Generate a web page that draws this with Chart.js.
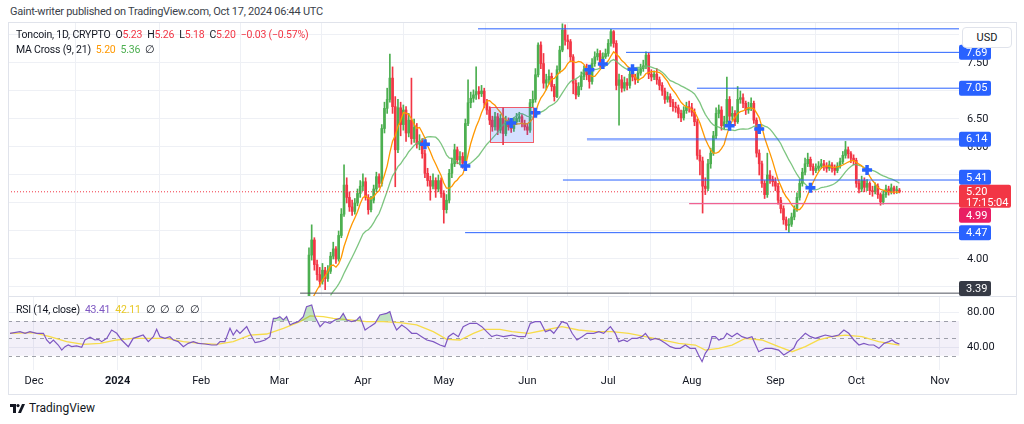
<!DOCTYPE html>
<html>
<head>
<meta charset="utf-8">
<script src="https://cdn.jsdelivr.net/npm/chart.js@4.4.1/dist/chart.umd.min.js"></script>
<style>
  body { margin:0; width:1024px; height:424px; background:#fff; position:relative; overflow:hidden;
         font-family: Roboto, "Liberation Sans", sans-serif; color:#131722; }
  canvas { position:absolute; display:block; }
  #price { left:8px; top:22px; }
  #rsi { left:8px; top:296px; }
  .txt { position:absolute; font-size:11px; letter-spacing:-0.25px; white-space:nowrap; line-height:14px; z-index:3; }
  .leg { font-size:10.5px; letter-spacing:-0.2px; }
  .txt span { margin-left:5px; }
  .txt span:first-child { margin-left:0; }
  #frame { position:absolute; left:8px; top:22px; width:1007px; height:371px; border:1px solid #e0e3eb; z-index:2; pointer-events:none; }
  #sep { position:absolute; left:8px; top:296px; width:1008px; height:1px; background:#e0e3eb; z-index:2; }
  #usd { position:absolute; left:962px; top:27px; width:48px; height:19px; border:1px solid #e0e3eb; border-radius:4px;
         background:#fff; font-size:11px; line-height:19px; text-align:center; z-index:3; }
  .red { color:#f23645; } .org { color:#ff9800; } .grn { color:#4caf50; } .pur { color:#7e57c2; } .yel { color:#e8c825; }
</style>
</head>
<body>
<div class="txt" style="left:10px;top:5px;color:#3b3f4a">Gaint-writer published on TradingView.com, Oct 17, 2024 06:44 UTC</div>
<canvas id="price" width="1008" height="274"></canvas>
<canvas id="rsi" width="1008" height="97"></canvas>
<div id="frame"></div>
<div id="sep"></div>
<div id="usd">USD</div>
<div class="txt leg" style="left:16px;top:28px"><span>Toncoin, 1D, CRYPTO</span><span>O<b class="red" style="font-weight:normal">5.23</b></span><span>H<b class="red" style="font-weight:normal">5.26</b></span><span>L<b class="red" style="font-weight:normal">5.18</b></span><span>C<b class="red" style="font-weight:normal">5.20</b></span><span class="red">−0.03 (−0.57%)</span></div>
<div class="txt leg" style="left:16px;top:43px"><span>MA Cross (9, 21)</span><span class="org">5.20</span><span class="grn">5.36</span><span>∅</span></div>
<div class="txt leg" style="left:16px;top:303px"><span>RSI (14, close)</span><span class="pur">43.41</span><span class="yel">42.11</span><span>∅</span><span>∅</span><span>∅</span><span>∅</span></div>
<div class="txt" style="left:10px;top:401px;font-size:12px;letter-spacing:0;display:flex;align-items:center">
  <svg width="15" height="9" viewBox="0 0 15 9" style="margin-right:4px"><path d="M0 0h6v9H3V3H0z" fill="#131722"/><circle cx="8" cy="1.6" r="1.6" fill="#131722"/><path d="M12 0h3l-4 9H8z" fill="#131722"/></svg>TradingView
</div>

<script>
// days are counted from 2023-12-01 (day 0)
const monthDays = [0, 31, 62, 91, 122, 152, 183, 213, 244, 275, 305, 336];
const monthLabels = ['Dec', '2024', 'Feb', 'Mar', 'Apr', 'May', 'Jun', 'Jul', 'Aug', 'Sep', 'Oct', 'Nov'];
const xMin = -9.64, xMax = 343.1;

// daily candles from 2024-02-29 (day 90) to 2024-10-17 (day 321); open = previous close
const firstDay = 90;
const firstOpen = 2.62;
const closes = [
  2.70, 2.78, 2.85, 3.00, 3.10, 3.05, 2.92, 2.88, 2.95, 3.02,
  3.05, 3.12, 4.07, 4.34, 3.90, 3.72, 3.60, 3.80, 3.65, 3.78,
  4.05, 4.18, 4.00, 4.42, 4.80, 5.32, 5.10, 4.93, 4.85, 5.00,
  5.17, 5.30, 5.38, 5.10, 4.88, 5.05, 5.25, 5.47, 5.35, 6.33,
  6.69, 6.85, 7.23, 6.72, 5.95, 6.70, 6.40, 6.66, 6.25, 6.48,
  6.15, 6.35, 6.05, 6.10, 5.88, 5.53, 5.40, 5.30, 5.40, 5.25,
  5.40, 5.17, 4.88, 5.05, 5.53, 5.70, 5.95, 5.77, 5.83, 5.71,
  6.42, 6.79, 6.87, 6.93, 6.99, 6.95, 7.00, 6.79, 6.66, 6.48,
  6.36, 6.54, 6.30, 6.51, 6.24, 6.48, 6.36, 6.33, 6.45, 6.51,
  6.54, 6.42, 6.36, 6.30, 6.79, 6.85, 7.29, 7.82, 7.49, 7.14,
  7.20, 7.26, 7.08, 6.90, 7.38, 7.73, 8.09, 7.91, 7.88, 7.61,
  7.14, 6.93, 7.08, 7.26, 7.38, 7.29, 7.17, 7.49, 7.61, 7.67,
  7.49, 7.61, 7.67, 7.85, 8.06, 7.85, 7.10, 7.20, 7.05, 7.15,
  7.10, 7.30, 7.25, 7.20, 7.32, 7.40, 7.45, 7.64, 7.30, 7.25,
  7.30, 7.20, 7.10, 7.00, 6.85, 6.90, 6.80, 6.72, 6.70, 6.60,
  6.52, 6.65, 6.72, 6.70, 6.62, 6.45, 5.85, 5.75, 5.30, 5.26,
  5.70, 5.89, 6.20, 6.60, 6.66, 6.38, 6.45, 6.85, 6.55, 6.60,
  6.45, 6.85, 6.88, 6.78, 6.66, 6.70, 6.78, 6.48, 5.89, 5.70,
  5.35, 5.15, 5.50, 5.42, 5.38, 5.30, 5.05, 4.90, 4.70, 4.60,
  4.62, 4.75, 4.88, 5.10, 5.35, 5.55, 5.70, 5.78, 5.65, 5.58,
  5.62, 5.66, 5.70, 5.65, 5.62, 5.68, 5.62, 5.58, 5.66, 5.74,
  5.85, 5.95, 5.88, 5.80, 5.76, 5.35, 5.25, 5.40, 5.28, 5.35,
  5.22, 5.20, 5.30, 5.15, 5.02, 5.15, 5.25, 5.20, 5.27, 5.22,
  5.23, 5.20
];
const highs = [
  2.75, 2.82, 2.90, 3.05, 3.18, 3.15, 3.08, 2.98, 3.00, 3.08,
  3.12, 3.25, 4.20, 4.61, 4.38, 3.98, 3.85, 3.92, 3.85, 3.88,
  4.12, 4.30, 4.22, 4.50, 4.90, 5.68, 5.45, 5.20, 5.05, 5.08,
  5.25, 5.40, 5.52, 5.45, 5.15, 5.12, 5.32, 5.55, 5.52, 6.40,
  6.80, 7.05, 7.66, 7.43, 6.90, 6.85, 6.80, 6.75, 6.72, 6.60,
  7.23, 6.50, 6.42, 6.22, 6.15, 5.95, 5.62, 5.48, 5.52, 5.45,
  5.50, 5.45, 5.22, 5.15, 5.60, 5.80, 6.05, 6.00, 5.92, 5.90,
  6.50, 7.20, 6.98, 7.02, 7.43, 7.08, 7.10, 7.05, 6.85, 6.72,
  6.55, 6.62, 6.60, 6.58, 6.70, 6.55, 6.52, 6.45, 6.52, 6.60,
  6.62, 6.58, 6.48, 6.42, 6.85, 7.00, 7.40, 7.86, 7.88, 7.67,
  7.30, 7.38, 7.32, 7.12, 7.45, 7.80, 8.20, 8.18, 8.00, 7.92,
  7.65, 7.20, 7.15, 7.34, 7.45, 7.48, 7.35, 7.58, 7.70, 7.75,
  7.72, 7.68, 7.75, 7.92, 8.10, 8.08, 7.90, 7.30, 7.28, 7.25,
  7.22, 7.38, 7.36, 7.30, 7.40, 7.48, 7.55, 7.70, 7.68, 7.38,
  7.36, 7.40, 7.25, 7.15, 7.05, 6.98, 6.95, 6.85, 6.80, 6.75,
  6.66, 6.72, 6.80, 6.82, 6.78, 6.68, 6.50, 5.95, 5.82, 5.45,
  5.78, 5.98, 6.28, 6.70, 6.75, 6.72, 6.55, 7.25, 6.90, 6.72,
  6.65, 7.08, 7.00, 6.95, 6.82, 6.80, 6.88, 6.82, 6.52, 5.95,
  5.75, 5.40, 5.89, 5.58, 5.48, 5.45, 5.35, 5.10, 4.95, 4.75,
  4.72, 4.82, 4.95, 5.18, 5.42, 5.62, 5.80, 5.89, 5.82, 5.70,
  5.70, 5.74, 5.78, 5.76, 5.72, 5.75, 5.72, 5.68, 5.72, 5.80,
  5.92, 6.10, 6.00, 5.92, 5.86, 5.80, 5.42, 5.48, 5.45, 5.42,
  5.38, 5.30, 5.36, 5.34, 5.18, 5.22, 5.32, 5.30, 5.34, 5.30,
  5.30, 5.26
];
const lows = [
  2.58, 2.66, 2.74, 2.82, 2.96, 2.98, 2.86, 2.82, 2.85, 2.92,
  2.98, 3.02, 3.10, 3.98, 3.80, 3.62, 3.50, 3.55, 3.45, 3.60,
  3.74, 4.00, 3.92, 3.96, 4.38, 4.76, 5.00, 4.85, 4.78, 4.80,
  4.95, 5.10, 5.22, 5.05, 4.80, 4.84, 5.00, 5.20, 5.28, 5.30,
  6.25, 6.60, 6.80, 6.60, 5.29, 5.90, 6.20, 6.30, 6.10, 6.18,
  6.05, 6.08, 5.98, 5.95, 5.80, 5.45, 5.30, 5.05, 5.25, 5.10,
  5.20, 5.10, 4.64, 4.82, 5.00, 5.45, 5.65, 5.70, 5.68, 5.62,
  5.66, 6.38, 6.70, 6.80, 6.85, 6.86, 6.90, 6.70, 6.58, 6.40,
  6.28, 6.30, 6.22, 6.25, 6.04, 6.20, 6.30, 6.26, 6.28, 6.40,
  6.45, 6.36, 6.30, 6.22, 6.26, 6.72, 6.80, 7.25, 7.40, 7.05,
  7.02, 7.12, 7.00, 6.82, 6.88, 7.32, 7.70, 7.82, 7.75, 7.52,
  6.95, 6.86, 6.90, 7.02, 7.20, 7.20, 7.05, 7.12, 7.44, 7.55,
  7.42, 7.45, 7.58, 7.62, 7.80, 7.78, 7.02, 6.39, 6.98, 7.00,
  7.02, 7.05, 7.18, 7.12, 7.15, 7.28, 7.35, 7.40, 7.22, 7.18,
  7.20, 7.12, 7.02, 6.92, 6.78, 6.80, 6.72, 6.64, 6.62, 6.52,
  6.45, 6.48, 6.60, 6.62, 6.55, 6.38, 5.78, 5.50, 4.82, 5.15,
  5.22, 5.62, 5.85, 6.15, 6.52, 6.30, 6.32, 6.40, 6.45, 6.48,
  6.38, 6.42, 6.78, 6.70, 6.58, 6.60, 6.65, 6.42, 5.82, 5.50,
  5.28, 5.08, 5.10, 5.35, 5.30, 5.22, 4.98, 4.82, 4.62, 4.52,
  4.47, 4.58, 4.70, 4.85, 5.05, 5.30, 5.50, 5.65, 5.58, 5.50,
  5.54, 5.58, 5.62, 5.58, 5.55, 5.58, 5.55, 5.50, 5.54, 5.62,
  5.70, 5.80, 5.80, 5.72, 5.68, 5.28, 5.18, 5.20, 5.20, 5.22,
  5.15, 5.12, 5.16, 5.08, 4.96, 4.98, 5.10, 5.14, 5.16, 5.16,
  5.17, 5.18
];

// MA cross markers (day, price)
const crossDays = [145, 160, 177, 186, 206, 211, 222, 258, 269, 288, 309];
const crossValues = [6.05, 5.66, 6.43, 6.61, 7.38, 7.48, 7.39, 6.38, 6.32, 5.27, 5.59];

// horizontal levels drawn on the chart (price, first day)
const levelValues = [8.11, 7.69, 7.05, 6.14, 5.41, 4.99, 4.47, 3.39];
const levelFromDays = [164.7, 219.6, 245.9, 205.1, 196.2, 243.0, 159.9, 98.7];
// rectangle drawing
const boxDays = [169.1, 185.1];
const boxPrices = [6.09, 6.71];

const rsiDays = [
  -8.9, -5.2, -3.3, -1.5, 1.0, 3.5, 4.7, 5.9, 7.2, 9.0, 10.3, 11.5, 12.7, 14.0, 15.8, 17.7, 18.9, 20.8, 22.6, 23.9,
  25.1, 27.0, 28.8, 30.7, 32.5, 35.0, 36.8, 38.7, 40.5, 42.4, 44.3, 45.5, 46.7, 48.6, 50.4, 51.7, 53.5, 55.4, 57.2, 59.1,
  60.9, 63.4, 65.9, 67.8, 69.0, 70.8, 72.7, 73.9, 75.2, 76.4, 77.6, 78.9, 80.1, 82.0, 83.8, 85.7, 87.5, 88.8, 90.0, 91.2,
  92.5, 93.7, 95.0, 96.2, 98.0, 99.9, 101.1, 103.0, 104.2, 106.1, 107.9, 109.8, 111.6, 113.5, 114.7, 116.0, 117.8, 119.7, 120.9, 122.8,
  124.6, 126.5, 128.3, 130.8, 132.0, 133.3, 134.5, 136.4, 138.2, 140.1, 141.9, 143.8, 145.7, 148.1, 150.6, 152.4, 153.7, 155.5, 157.4, 159.2,
  161.7, 164.2, 166.1, 167.9, 169.8, 171.6, 174.1, 177.3, 179.8, 182.2, 184.1, 185.9, 187.8, 189.7, 191.5, 192.8, 194.6, 195.8, 197.7, 199.6,
  201.4, 203.3, 205.1, 207.6, 209.5, 211.3, 213.8, 215.6, 216.9, 218.7, 220.0, 221.8, 223.7, 225.5, 226.8, 228.6, 230.5, 232.3, 234.2, 236.0,
  237.9, 239.7, 241.6, 243.4, 245.3, 246.5, 247.8, 249.0, 250.3, 251.5, 252.7, 254.0, 255.8, 257.0, 258.9, 260.8, 262.6, 264.5, 266.3, 268.8,
  271.3, 273.7, 276.2, 278.1, 280.0, 281.8, 283.0, 284.2, 286.1, 288.0, 289.8, 291.7, 293.5, 296.0, 298.5, 300.4, 302.2, 304.1, 306.0, 307.8,
  309.7, 311.5, 313.4, 315.3, 317.1, 318.3, 319.6, 321.0
];
const rsiValues = [
  55.8, 57.7, 55.8, 57.7, 55.8, 55.8, 48.1, 44.2, 48.1, 42.3, 36.5, 40.4, 42.3, 40.4, 41.2, 39.6, 48.1, 51.2, 48.1, 48.8,
  46.2, 50.0, 59.6, 55.8, 48.1, 40.4, 50.0, 51.9, 53.8, 46.2, 51.9, 60.4, 51.9, 50.0, 51.9, 48.1, 46.2, 40.4, 44.2, 46.2,
  44.2, 43.5, 42.3, 42.3, 46.2, 46.2, 61.5, 53.8, 59.6, 55.8, 59.6, 63.5, 55.8, 45.0, 46.2, 48.1, 51.9, 73.1, 73.1, 75.0,
  71.2, 75.0, 65.4, 67.3, 69.2, 75.0, 86.5, 88.5, 75.0, 63.5, 69.2, 67.3, 71.2, 73.1, 78.8, 71.2, 69.2, 71.2, 75.0, 59.6,
  63.5, 67.3, 76.9, 78.8, 80.8, 67.3, 59.6, 65.4, 61.5, 55.8, 55.8, 51.9, 48.1, 46.2, 42.3, 40.4, 51.9, 55.8, 51.9, 63.5,
  67.3, 67.3, 63.5, 57.7, 51.9, 53.8, 51.9, 53.8, 51.9, 51.9, 67.3, 69.2, 69.2, 57.7, 59.6, 55.8, 63.5, 69.2, 67.3, 55.8,
  48.1, 51.9, 55.8, 55.8, 57.7, 55.8, 63.5, 55.8, 46.2, 48.1, 46.2, 50.0, 50.0, 51.9, 55.8, 48.1, 50.0, 48.1, 44.2, 40.4,
  38.5, 38.5, 42.3, 38.5, 38.5, 30.8, 23.1, 32.7, 38.5, 51.9, 51.9, 48.1, 50.0, 55.8, 51.9, 55.8, 51.9, 50.0, 51.9, 34.6,
  38.5, 38.5, 36.5, 30.8, 34.6, 38.5, 46.2, 50.0, 55.8, 51.9, 50.0, 51.9, 53.8, 51.9, 53.8, 59.6, 55.8, 48.1, 42.3, 44.2,
  42.3, 42.3, 38.5, 44.2, 46.2, 48.1, 45.0, 43.4
];
const rsiMaDays = [
  -8.9, -0.3, 5.9, 12.1, 18.3, 24.5, 30.7, 36.8, 43.0, 49.2, 55.4, 61.6, 67.8, 73.9, 80.1, 86.3, 92.5, 98.7, 102.4, 107.3,
  111.0, 117.2, 123.4, 129.6, 135.8, 141.9, 148.1, 153.1, 158.0, 163.0, 166.7, 172.8, 177.3, 183.5, 189.7, 195.8, 202.0, 208.2, 214.4, 220.6,
  226.8, 232.9, 239.1, 245.3, 249.0, 254.0, 258.9, 263.8, 270.0, 276.2, 281.2, 286.1, 291.0, 296.0, 300.9, 307.1, 313.3, 317.0, 321.0
];
const rsiMaValues = [
  55.8, 56.5, 51.9, 46.2, 43.1, 44.2, 48.1, 50.0, 50.0, 50.0, 46.2, 44.2, 43.1, 46.2, 53.8, 55.0, 61.5, 69.2, 75.8, 75.0,
  73.1, 71.2, 69.2, 69.2, 68.1, 65.4, 57.7, 48.8, 48.1, 55.8, 60.4, 60.4, 57.7, 55.8, 59.6, 63.5, 59.6, 57.7, 57.7, 55.8,
  51.9, 48.1, 44.2, 42.3, 36.5, 38.5, 42.3, 50.0, 48.1, 40.4, 34.6, 40.4, 48.1, 51.9, 53.8, 51.9, 46.2, 44.2, 42.1
];
const rsiLevels = [70, 50, 30];

// ---- styling ----
const UP = '#4caf50', DOWN = '#f23645', BLUE = '#2962ff', GRID = '#eef0f5';
const opens = closes.map((c, i) => i === 0 ? firstOpen : closes[i - 1]);
const candleColors = closes.map((c, i) => c >= opens[i] ? UP : DOWN);

function sma(n) {
  return closes.map((c, i) => {
    if (i < n - 1) return null;
    let s = 0;
    for (let k = i - n + 1; k <= i; k++) s += closes[k];
    return { x: firstDay + i, y: s / n };
  }).filter(p => p);
}

const levelStyles = [
  { color: BLUE, width: 1 }, { color: BLUE, width: 1 }, { color: BLUE, width: 1 },
  { color: 'rgba(41,98,255,0.5)', width: 2.5 }, { color: BLUE, width: 1 },
  { color: '#f06292', width: 1.2 }, { color: BLUE, width: 1 }, { color: '#50535e', width: 1 }
];
const tagColors = { '7.69': BLUE, '7.05': BLUE, '6.14': BLUE, '5.41': BLUE, '4.99': '#e91e63', '4.47': BLUE, '3.39': '#363a45' };

const monthTicks = s => { s.ticks = monthDays.map(v => ({ value: v })); };

const levelSets = levelValues.map((v, i) => ({
  type: 'line', order: 3,
  data: [{ x: levelFromDays[i], y: v }, { x: xMax, y: v }],
  borderColor: levelStyles[i].color, borderWidth: levelStyles[i].width,
  pointRadius: 0
}));

const lastClose = closes[closes.length - 1];

const overlay = {
  id: 'overlay',
  afterDatasetsDraw(chart) {
    const { ctx, scales: { x, y } } = chart;
    const x0 = x.getPixelForValue(boxDays[0]), x1 = x.getPixelForValue(boxDays[1]);
    const y0 = y.getPixelForValue(boxPrices[1]), y1 = y.getPixelForValue(boxPrices[0]);
    ctx.save();
    ctx.fillStyle = 'rgba(41,98,255,0.2)';
    ctx.fillRect(x0, y0, x1 - x0, y1 - y0);
    ctx.strokeStyle = 'rgba(242,54,69,0.8)';
    ctx.lineWidth = 1;
    ctx.strokeRect(Math.round(x0) + 0.5, Math.round(y0) + 0.5, Math.round(x1 - x0), Math.round(y1 - y0));
    ctx.restore();
  },
  afterDraw(chart) {
    const { ctx, chartArea, scales: { y } } = chart;
    const left = chartArea.right;
    const py = y.getPixelForValue(lastClose);
    const pTop = py - 7, pBot = py + 16;
    const h = 15;
    ctx.save();
    ctx.font = '11px Roboto, "Liberation Sans", sans-serif';
    ctx.textBaseline = 'middle';
    Object.keys(tagColors).forEach(k => {
      const v = parseFloat(k);
      let ty = y.getPixelForValue(v);
      if (v > lastClose) ty = Math.min(ty, pTop - h / 2); else ty = Math.max(ty, pBot + h / 2);
      ty = Math.min(ty, chartArea.bottom - h / 2);
      ctx.fillStyle = tagColors[k];
      ctx.beginPath(); ctx.roundRect(left, ty - h / 2, 32, h, 2); ctx.fill();
      ctx.fillStyle = '#fff';
      ctx.fillText(k, left + 7, ty + 0.5);
    });
    ctx.fillStyle = DOWN;
    ctx.beginPath(); ctx.roundRect(left, pTop, 52, 23, 2); ctx.fill();
    ctx.fillStyle = '#fff';
    ctx.fillText(lastClose.toFixed(2), left + 7, py + 0.5);
    ctx.fillText('17:15:04', left + 7, py + 11);
    ctx.restore();
  }
};

new Chart(document.getElementById('price'), {
  type: 'bar',
  data: {
    datasets: [
      { type: 'bar', order: 10, grouped: false, barThickness: 1,
        data: closes.map((c, i) => ({ x: firstDay + i, y: [lows[i], highs[i]] })),
        backgroundColor: candleColors },
      { type: 'bar', order: 9, grouped: false, barThickness: 2, minBarLength: 1,
        data: closes.map((c, i) => ({ x: firstDay + i, y: [opens[i], c] })),
        backgroundColor: candleColors },
      { type: 'line', order: 5, data: sma(21), borderColor: 'rgba(102,187,106,0.85)', borderWidth: 1.3, pointRadius: 0 },
      { type: 'line', order: 4, data: sma(9), borderColor: '#ff9800', borderWidth: 1.3, pointRadius: 0 },
      ...levelSets,
      { type: 'line', order: 2, data: [{ x: xMin, y: lastClose }, { x: xMax, y: lastClose }],
        borderColor: DOWN, borderWidth: 1, borderDash: [1, 2], pointRadius: 0 },
      { type: 'line', order: 0, showLine: false,
        data: crossDays.map((d, i) => ({ x: d, y: crossValues[i] })),
        pointStyle: 'cross', pointRadius: 5, borderWidth: 3.5, borderColor: BLUE, backgroundColor: BLUE }
    ]
  },
  options: {
    responsive: false, animation: false, events: [],
    layout: { padding: 0, autoPadding: false },
    plugins: { legend: { display: false }, tooltip: { enabled: false } },
    scales: {
      x: { type: 'linear', min: xMin, max: xMax, offset: false,
        afterBuildTicks: monthTicks,
        ticks: { display: false }, grid: { color: GRID, drawTicks: false }, border: { display: false },
        afterFit: s => { s.height = 0; s.paddingLeft = 0; s.paddingRight = 0; } },
      y: { position: 'right', min: 3.339, max: 8.232,
        ticks: { stepSize: 0.5, includeBounds: false, padding: 8, color: '#131722',
          font: { size: 11, family: 'Roboto' }, callback: v => v.toFixed(2) },
        grid: { color: GRID, drawTicks: false }, border: { display: false },
        afterFit: s => { s.width = 57; s.paddingTop = 0; s.paddingBottom = 0; } }
    }
  },
  plugins: [overlay]
});

const rsiBand = {
  id: 'rsiBand',
  beforeDatasetsDraw(chart) {
    const { ctx, chartArea: a, scales: { y } } = chart;
    ctx.save();
    const yTop = y.getPixelForValue(rsiLevels[0]), yBot = y.getPixelForValue(rsiLevels[2]);
    ctx.fillStyle = 'rgba(126,87,194,0.09)';
    ctx.fillRect(a.left, yTop, a.right - a.left, yBot - yTop);
    ctx.strokeStyle = 'rgba(120,123,134,0.7)';
    ctx.lineWidth = 1;
    ctx.setLineDash([4, 4]);
    rsiLevels.forEach(v => {
      const py = Math.round(y.getPixelForValue(v)) + 0.5;
      ctx.beginPath(); ctx.moveTo(a.left, py); ctx.lineTo(a.right, py); ctx.stroke();
    });
    ctx.restore();
  }
};

new Chart(document.getElementById('rsi'), {
  type: 'line',
  data: {
    datasets: [
      { data: rsiMaDays.map((d, i) => ({ x: d, y: rsiMaValues[i] })), borderColor: '#f7dc4a', borderWidth: 1.3, pointRadius: 0, order: 2 },
      { data: rsiDays.map((d, i) => ({ x: d, y: rsiValues[i] })), borderColor: '#7e57c2', borderWidth: 1.2, pointRadius: 0, order: 1,
        fill: { target: { value: 70 }, above: 'rgba(76,175,80,0.35)', below: 'rgba(0,0,0,0)' } }
    ]
  },
  options: {
    responsive: false, animation: false, events: [],
    layout: { padding: 0, autoPadding: false },
    plugins: { legend: { display: false }, tooltip: { enabled: false } },
    scales: {
      x: { type: 'linear', min: xMin, max: xMax, offset: false,
        afterBuildTicks: monthTicks,
        ticks: { autoSkip: false, maxRotation: 0, padding: 5, color: '#131722',
          font: c => ({ size: 11, family: 'Roboto', weight: c.tick && c.tick.value === 31 ? 'bold' : 'normal' }),
          callback: v => monthLabels[monthDays.indexOf(v)] },
        grid: { color: GRID, drawTicks: false }, border: { display: false },
        afterFit: s => { s.height = 23; s.paddingLeft = 0; s.paddingRight = 0; } },
      y: { position: 'right', min: 13.5, max: 98.8,
        afterBuildTicks: s => { s.ticks = [{ value: 80 }, { value: 40 }]; },
        ticks: { padding: 8, color: '#131722', font: { size: 11, family: 'Roboto' }, callback: v => v.toFixed(2) },
        grid: { color: GRID, drawTicks: false }, border: { display: false },
        afterFit: s => { s.width = 57; s.paddingTop = 0; s.paddingBottom = 0; } }
    }
  },
  plugins: [rsiBand]
});
</script>
</body>
</html>
